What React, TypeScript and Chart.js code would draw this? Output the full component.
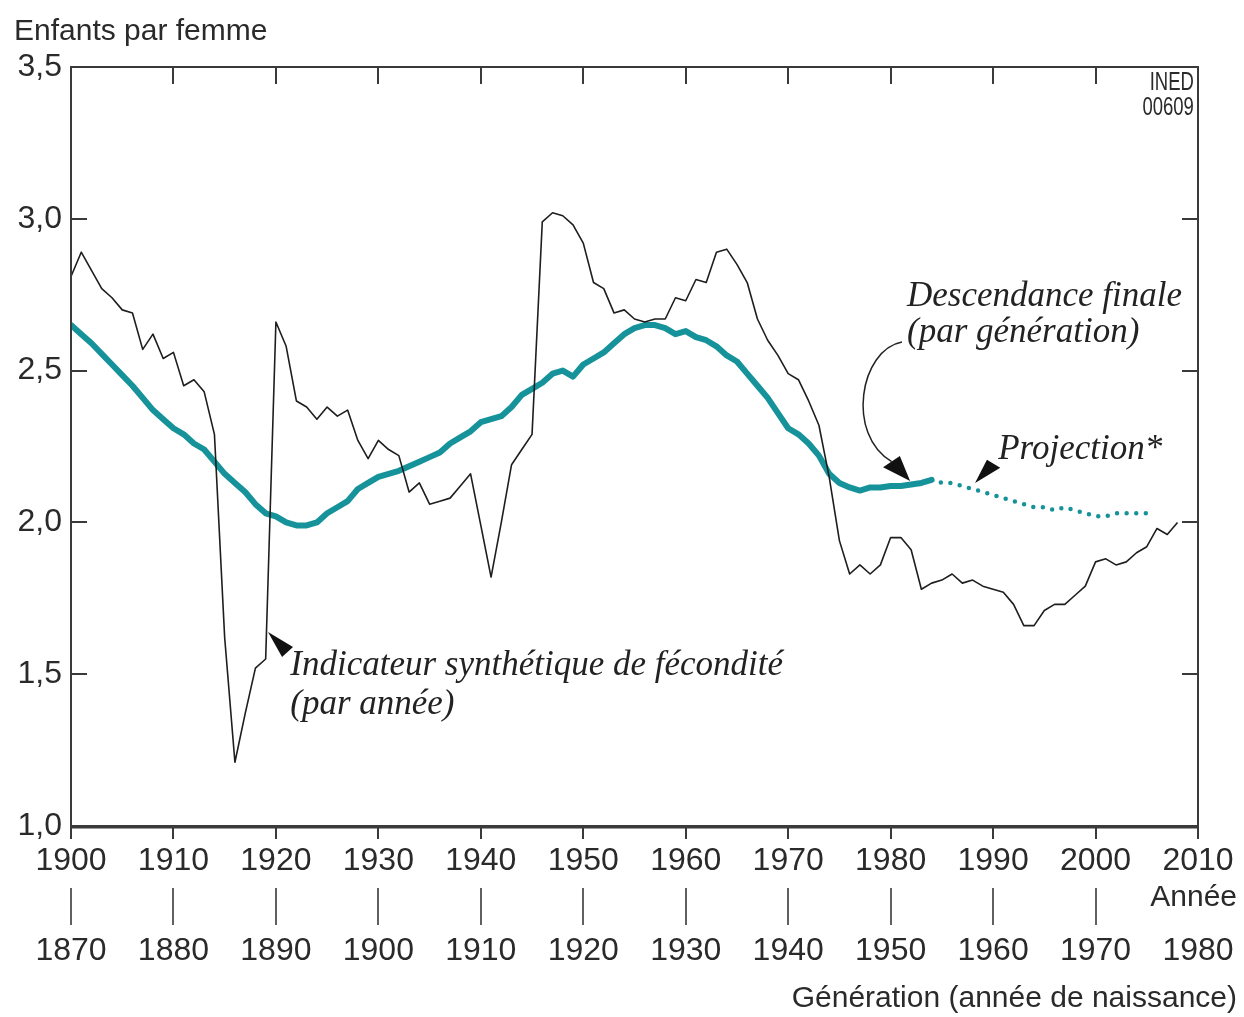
import React, { useEffect, useRef } from "react";
import { Chart, registerables } from "chart.js";

Chart.register(...registerables);

// ---- Axis ticks ----
const YEAR_TICKS = [1900, 1910, 1920, 1930, 1940, 1950, 1960, 1970, 1980, 1990, 2000, 2010];
const GEN_TICKS = [1870, 1880, 1890, 1900, 1910, 1920, 1930, 1940, 1950, 1960, 1970, 1980];
const Y_TICKS = [1.0, 1.5, 2.0, 2.5, 3.0, 3.5];
const GEN_OFFSET = 30; // generation axis is shifted 30 years from the calendar axis

// ---- Indicateur synthétique de fécondité (par année), 1900-2008 ----
const ISF_FIRST_YEAR = 1900;
const ISF_VALUES = [
  2.81, 2.89, 2.83, 2.77, 2.74, 2.70, 2.69, 2.57, 2.62, 2.54,
  2.56, 2.45, 2.47, 2.43, 2.29, 1.62, 1.21, 1.37, 1.52, 1.55,
  2.66, 2.58, 2.40, 2.38, 2.34, 2.38, 2.35, 2.37, 2.27, 2.21,
  2.27, 2.24, 2.22, 2.10, 2.13, 2.06, 2.07, 2.08, 2.12, 2.16,
  1.99, 1.82, 2.00, 2.19, 2.24, 2.29, 2.99, 3.02, 3.01, 2.98,
  2.92, 2.79, 2.77, 2.69, 2.70, 2.67, 2.66, 2.67, 2.67, 2.74,
  2.73, 2.80, 2.79, 2.89, 2.90, 2.85, 2.79, 2.67, 2.60, 2.55,
  2.49, 2.47, 2.40, 2.32, 2.15, 1.94, 1.83, 1.86, 1.83, 1.86,
  1.95, 1.95, 1.91, 1.78, 1.80, 1.81, 1.83, 1.80, 1.81, 1.79,
  1.78, 1.77, 1.73, 1.66, 1.66, 1.71, 1.73, 1.73, 1.76, 1.79,
  1.87, 1.88, 1.86, 1.87, 1.90, 1.92, 1.98, 1.96, 2.00,
];

// ---- Descendance finale (par génération), générations 1870-1954 ----
const DF_FIRST_GEN = 1870;
const DF_VALUES = [
  2.65, 2.62, 2.59, 2.555, 2.52, 2.485, 2.45, 2.41, 2.37, 2.34,
  2.31, 2.29, 2.26, 2.24, 2.20, 2.16, 2.13, 2.10, 2.06, 2.03,
  2.02, 2.00, 1.99, 1.99, 2.00, 2.03, 2.05, 2.07, 2.11, 2.13,
  2.15, 2.16, 2.17, 2.185, 2.20, 2.215, 2.23, 2.26, 2.28, 2.30,
  2.33, 2.34, 2.35, 2.38, 2.42, 2.44, 2.46, 2.49, 2.50, 2.48,
  2.52, 2.54, 2.56, 2.59, 2.62, 2.64, 2.65, 2.65, 2.64, 2.62,
  2.63, 2.61, 2.60, 2.58, 2.55, 2.53, 2.49, 2.45, 2.41, 2.36,
  2.31, 2.29, 2.26, 2.22, 2.16, 2.13, 2.115, 2.105, 2.115, 2.115,
  2.12, 2.12, 2.125, 2.13, 2.14,
];

// ---- Projection, générations 1954-1975 ----
const PROJ_FIRST_GEN = 1954;
const PROJ_VALUES = [
  2.14, 2.13, 2.13, 2.12, 2.11, 2.10, 2.09, 2.08, 2.07, 2.06,
  2.05, 2.05, 2.04, 2.05, 2.04, 2.03, 2.02, 2.02, 2.03, 2.03,
  2.03, 2.03,
];

// ---- Texts ----
const Y_TITLE = "Enfants par femme";
const X_TITLE = "Année";
const GEN_TITLE = "Génération (année de naissance)";
const SOURCE_LINES = ["INED", "00609"];
const ISF_LABEL = ["Indicateur synthétique de fécondité", "(par année)"];
const DF_LABEL = ["Descendance finale", "(par génération)"];
const PROJ_LABEL = "Projection*";

const TEAL = "#16939a";
const INK = "#2a2a2a";
const SANS = '"Liberation Sans", Arial, sans-serif';
const SERIF = '"Liberation Serif", "Times New Roman", serif';

function toPoints(first: number, values: number[], offset: number) {
  return values.map((v, i) => ({ x: first + i + offset, y: v }));
}

const decorPlugin = {
  id: "decor",
  afterDraw(chart: any) {
    const { ctx, chartArea: a, scales } = chart;
    const xs = scales.x;
    const ys = scales.y;
    const px = (v: number) => xs.getPixelForValue(v);
    const py = (v: number) => ys.getPixelForValue(v);
    ctx.save();

    // Frame
    ctx.strokeStyle = "#3a3a3a";
    ctx.lineWidth = 2;
    ctx.strokeRect(a.left, a.top, a.right - a.left, a.bottom - a.top);
    ctx.lineWidth = 3;
    ctx.beginPath();
    ctx.moveTo(a.left, a.bottom + 1);
    ctx.lineTo(a.right, a.bottom + 1);
    ctx.stroke();

    // Inward ticks
    ctx.lineWidth = 2;
    ctx.beginPath();
    YEAR_TICKS.forEach((v, i) => {
      const x = Math.round(px(v));
      if (i > 0 && i < YEAR_TICKS.length - 1) {
        ctx.moveTo(x, a.top);
        ctx.lineTo(x, a.top + 17);
      }
      ctx.moveTo(x, a.bottom);
      ctx.lineTo(x, a.bottom + 13);
    });
    Y_TICKS.forEach((v, i) => {
      if (i === 0 || i === Y_TICKS.length - 1) return;
      const y = Math.round(py(v));
      ctx.moveTo(a.left, y);
      ctx.lineTo(a.left + 16, y);
      ctx.moveTo(a.right, y);
      ctx.lineTo(a.right - 16, y);
    });
    ctx.stroke();

    // Generation axis
    ctx.lineWidth = 1.6;
    ctx.beginPath();
    GEN_TICKS.forEach((g, i) => {
      if (i === GEN_TICKS.length - 1) return;
      const x = Math.round(px(g + GEN_OFFSET));
      ctx.moveTo(x, a.bottom + 62);
      ctx.lineTo(x, a.bottom + 99);
    });
    ctx.stroke();

    ctx.fillStyle = INK;
    ctx.font = `32px ${SANS}`;
    ctx.textAlign = "center";
    ctx.textBaseline = "middle";
    GEN_TICKS.forEach((g) => {
      ctx.fillText(String(g), px(g + GEN_OFFSET), a.bottom + 125);
    });

    ctx.textAlign = "right";
    ctx.font = `30px ${SANS}`;
    ctx.fillText(X_TITLE, a.right + 39, a.bottom + 72);
    ctx.fillText(GEN_TITLE, a.right + 39, a.bottom + 173);

    ctx.textAlign = "left";
    ctx.fillText(Y_TITLE, 14, 32);

    // Source
    ctx.font = `25px ${SANS}`;
    ctx.textAlign = "right";
    SOURCE_LINES.forEach((s, i) => {
      ctx.save();
      ctx.translate(px(2009.6), a.top + 16 + i * 25);
      ctx.scale(0.74, 1);
      ctx.fillText(s, 0, 0);
      ctx.restore();
    });

    // Annotation texts
    ctx.font = `italic 35px ${SERIF}`;
    ctx.textAlign = "left";
    ctx.fillStyle = "#222";
    ctx.fillText(ISF_LABEL[0], px(1921.4), py(1.527));
    ctx.fillText(ISF_LABEL[1], px(1921.4), py(1.40));
    ctx.fillText(DF_LABEL[0], px(1981.6), py(2.742));
    ctx.fillText(DF_LABEL[1], px(1981.6), py(2.624));
    ctx.fillText(PROJ_LABEL, px(1990.5), py(2.238));

    // Arrowheads
    const head = (tip: number[], b1: number[], b2: number[]) => {
      ctx.beginPath();
      ctx.moveTo(px(tip[0]), py(tip[1]));
      ctx.lineTo(px(b1[0]), py(b1[1]));
      ctx.lineTo(px(b2[0]), py(b2[1]));
      ctx.closePath();
      ctx.fill();
    };
    ctx.fillStyle = "#111";
    head([1919.23, 1.639], [1921.67, 1.59], [1920.6, 1.557]);
    head([1988.24, 2.13], [1989.4, 2.206], [1990.7, 2.18]);
    head([1981.9, 2.136], [1979.26, 2.182], [1980.9, 2.219]);

    // Curved pointer for descendance finale
    ctx.strokeStyle = "#222";
    ctx.lineWidth = 1.5;
    ctx.beginPath();
    ctx.moveTo(px(1981.1), py(2.594));
    ctx.bezierCurveTo(px(1977.0), py(2.568), px(1975.6), py(2.29), px(1980.1), py(2.2));
    ctx.stroke();

    ctx.restore();
  },
};

export default function App() {
  const ref = useRef<HTMLCanvasElement | null>(null);

  useEffect(() => {
    if (!ref.current) return;
    const chart = new Chart(ref.current, {
      type: "line",
      data: {
        datasets: [
          {
            label: "Indicateur synthétique de fécondité",
            data: toPoints(ISF_FIRST_YEAR, ISF_VALUES, 0),
            borderColor: "#1e1e1e",
            borderWidth: 1.6,
            pointRadius: 0,
            tension: 0,
            borderJoinStyle: "round",
          },
          {
            label: "Descendance finale",
            data: toPoints(DF_FIRST_GEN, DF_VALUES, GEN_OFFSET),
            borderColor: TEAL,
            borderWidth: 6,
            pointRadius: 0,
            tension: 0,
            borderJoinStyle: "round",
            borderCapStyle: "round",
          },
          {
            label: "Projection",
            data: toPoints(PROJ_FIRST_GEN, PROJ_VALUES, GEN_OFFSET),
            borderColor: TEAL,
            borderWidth: 4.5,
            borderDash: [0, 9.6],
            borderCapStyle: "round",
            pointRadius: 0,
            tension: 0,
          },
        ],
      },
      options: {
        responsive: false,
        maintainAspectRatio: false,
        animation: false,
        layout: { padding: { top: 67, right: 46, left: 0, bottom: 0 } },
        plugins: { legend: { display: false }, tooltip: { enabled: false } },
        scales: {
          x: {
            type: "linear",
            min: 1900,
            max: 2010,
            grid: { display: false, drawTicks: false },
            border: { display: false },
            afterBuildTicks: (s: any) => {
              s.ticks = YEAR_TICKS.map((v) => ({ value: v }));
            },
            ticks: {
              autoSkip: false,
              maxRotation: 0,
              padding: 16,
              color: INK,
              font: { family: SANS, size: 32 },
              callback: (v: any) => String(v),
            },
            afterFit: (s: any) => {
              s.height = 191;
              s.paddingLeft = 0;
              s.paddingRight = 0;
            },
          },
          y: {
            min: 1,
            max: 3.5,
            grid: { display: false, drawTicks: false },
            border: { display: false },
            afterBuildTicks: (s: any) => {
              s.ticks = Y_TICKS.map((v) => ({ value: v }));
            },
            ticks: {
              padding: 9,
              color: INK,
              font: { family: SANS, size: 32 },
              callback: (v: any) => Number(v).toFixed(1).replace(".", ","),
            },
            afterFit: (s: any) => {
              s.width = 71;
              s.paddingTop = 0;
              s.paddingBottom = 0;
            },
          },
        },
      },
      plugins: [decorPlugin],
    });
    return () => chart.destroy();
  }, []);

  return (
    <div style={{ position: "absolute", left: 0, top: 0, width: 1244, height: 1017, background: "#fff" }}>
      <canvas ref={ref} width={1244} height={1017} />
    </div>
  );
}
